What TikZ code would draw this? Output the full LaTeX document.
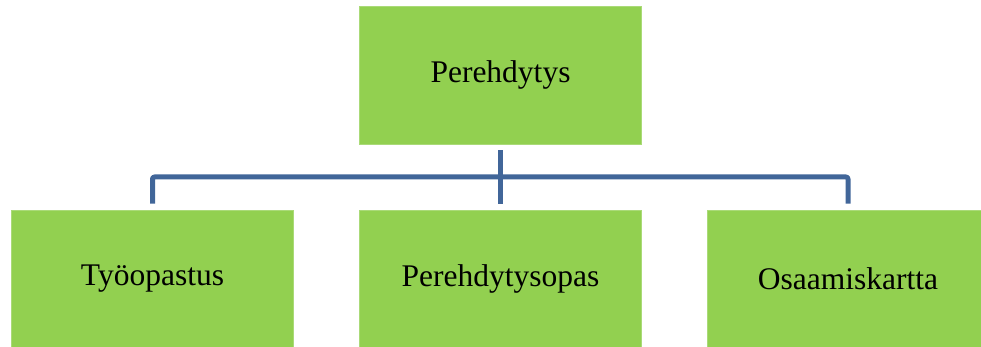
\documentclass[tikz,border=0pt]{standalone}
\usepackage{fontspec}
\setmainfont{Liberation Serif}
\definecolor{boxgreen}{RGB}{146,208,80}
\definecolor{boxedge}{RGB}{170,218,120}
\definecolor{linkblue}{RGB}{65,102,153}
\tikzset{
  gbox/.style={rectangle, fill=boxgreen, draw=boxedge, line width=0.8pt, minimum width=282pt, minimum height=138pt, inner sep=0pt, font=\fontsize{31.5pt}{36pt}\selectfont},
  conn/.style={draw=linkblue, line width=5pt, line join=round, rounded corners=2pt}
}
\begin{document}
\begin{tikzpicture}[x=1pt,y=1pt]
\useasboundingbox (0,0) rectangle (981,347);
\clip (0,0) rectangle (981,347);
\node[gbox] (top) at (500.5,272) {Perehdytys};
\node[gbox] (left) at (152.5,68) {Työopastus};
\node[gbox] (mid) at (500.5,68) {Perehdytysopas};
\node[gbox] (right) at (848,68) {Osaamiskartta};
\coordinate (bus) at (500.5,170);
\draw[conn] ([yshift=-6pt]top.south) -- ([yshift=6pt]mid.north);
\draw[conn] ([yshift=6pt]left.north) |- (bus) -| ([yshift=6pt]right.north);
\end{tikzpicture}
\end{document}
